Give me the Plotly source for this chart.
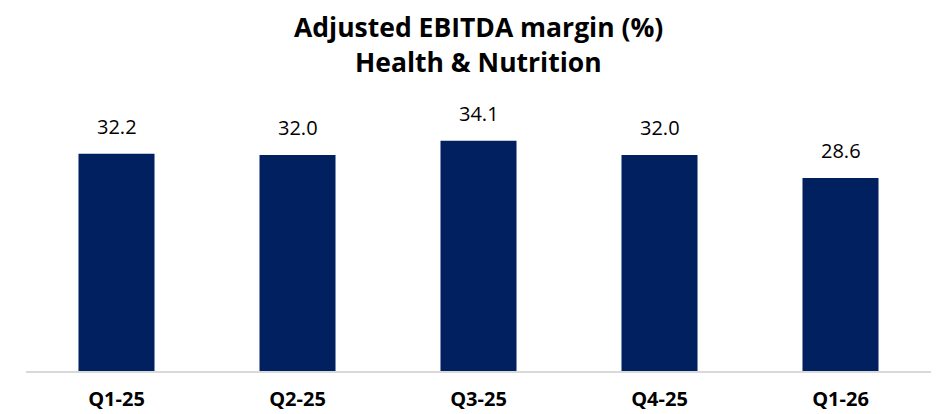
import plotly.graph_objects as go

categories = ["Q1-25", "Q2-25", "Q3-25", "Q4-25", "Q1-26"]
values = [32.2, 32.0, 34.1, 32.0, 28.6]
title_lines = ["Adjusted EBITDA margin (%)", "Health & Nutrition"]

bar_color = "#002060"
font_family = "Open Sans, Noto Sans, sans-serif"

fig = go.Figure()
fig.add_trace(go.Bar(x=categories, y=values, marker=dict(color=bar_color, line=dict(width=0)),
                     hoverinfo="x+y"))

for c, v in zip(categories, values):
    fig.add_annotation(x=c, y=v, text=f"{v:.1f}", showarrow=False, yanchor="bottom",
                       yshift=12, font=dict(family=font_family, size=20, color="#000000"))

# title lines as annotations (paper coords above the plot area)
for txt, ypos in zip(title_lines, [1.274, 1.144]):
    fig.add_annotation(x=0.5, y=ypos, xref="paper", yref="paper", text=f"<b>{txt}</b>",
                       showarrow=False, xanchor="center", yanchor="middle",
                       font=dict(family=font_family, size=26.5, color="#000000"))

fig.update_layout(
    width=949, height=414,
    margin=dict(l=26, r=18, t=101, b=43),
    paper_bgcolor="white", plot_bgcolor="white",
    bargap=0.58,
    showlegend=False,
    xaxis=dict(showline=True, linecolor="#d9d9d9", linewidth=2, ticks="outside",
               ticklen=9, tickcolor="rgba(0,0,0,0)", automargin=False,
               tickfont=dict(family=font_family, size=20, color="#000000"),
               tickprefix="<b>", ticksuffix="</b>", showgrid=False),
    yaxis=dict(range=[0, 40], visible=False, showgrid=False, automargin=False),
)

fig.write_html("out.html",
               config={"displayModeBar": False, "responsive": False},
               post_script="document.body.style.margin='0';document.body.style.padding='0';document.body.style.overflow='hidden';")
